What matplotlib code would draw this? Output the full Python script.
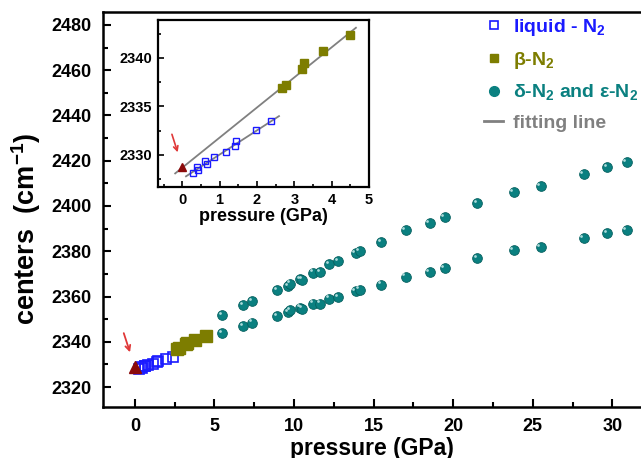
import matplotlib
matplotlib.use("Agg")
import matplotlib.pyplot as plt
from matplotlib.ticker import MultipleLocator
from matplotlib.lines import Line2D
import matplotlib.transforms as mtransforms

plt.rcParams['font.family'] = ['Liberation Sans', 'DejaVu Sans']
plt.rcParams['font.weight'] = 'bold'
plt.rcParams['mathtext.fontset'] = 'custom'
plt.rcParams['mathtext.rm'] = 'Liberation Sans:bold'
plt.rcParams['mathtext.bf'] = 'Liberation Sans:bold'
plt.rcParams['mathtext.it'] = 'Liberation Sans:bold'
plt.rcParams['mathtext.default'] = 'bf'

# ---- data ----
liquid_p = [0.28, 0.40, 0.43, 0.62, 0.67, 0.85, 1.17, 1.41, 1.45, 1.97, 2.38]
liquid_c = [2328.1, 2328.8, 2328.5, 2329.4, 2329.1, 2329.8, 2330.3, 2330.9, 2331.4, 2332.6, 2333.5]

beta_p = [2.68, 2.78, 3.21, 3.25, 3.78, 4.50]
beta_c = [2336.9, 2337.2, 2338.9, 2339.45, 2340.75, 2342.4]

delta_p = [5.50, 6.80, 7.39, 8.93, 9.62, 9.77, 10.36, 10.53, 11.20, 11.66, 12.20, 12.76,
           13.87, 14.12, 15.49, 17.01, 18.52, 19.46, 21.49, 23.79, 25.49, 28.19, 29.67, 30.89]
delta_upper = [2351.7, 2356.2, 2358.1, 2362.8, 2364.7, 2365.7, 2367.7, 2367.5, 2370.6, 2370.9,
               2374.3, 2375.5, 2379.3, 2380.2, 2384.2, 2389.3, 2392.6, 2395.0, 2401.4, 2406.0,
               2408.8, 2414.0, 2417.3, 2419.3]
delta_lower = [2343.9, 2346.9, 2348.5, 2351.3, 2353.2, 2354.2, 2355.1, 2354.7, 2356.9, 2356.9,
               2359.1, 2359.8, 2362.5, 2363.1, 2365.3, 2368.8, 2370.9, 2372.7, 2377.1, 2380.5,
               2382.0, 2385.7, 2387.9, 2389.3]

ambient_p = [0.0]
ambient_c = [2328.8]

fit_liquid_p = [0.10, 2.59]
fit_liquid_c = [2327.8, 2334.0]
fit_beta_p = [-0.19, 4.65]
fit_beta_c = [2328.1, 2343.1]

legend_labels = ['liquid - N$_2$', 'β-N$_2$', 'δ-N$_2$ and ε-N$_2$', 'fitting line']

# ---- colours ----
BLUE = '#1a1aff'
OLIVE = '#7d7d00'
TEAL = '#0a8080'
GREY = '#808080'
DARKRED = '#8b0a0a'
ARROW = '#e03838'

fig = plt.figure(figsize=(6.41, 4.58), dpi=100)
ax = fig.add_axes([103/641, 1-407/458, 1-103/641, (407-12)/458])


def balls(axis, x, y, ms):
    axis.plot(x, y, 'o', color=TEAL, ms=ms, mec='#06605f', mew=0.6, zorder=3)
    off = mtransforms.offset_copy(axis.transData, fig=fig, x=-0.22*ms, y=0.22*ms, units='points')
    axis.plot(x, y, 'o', color='#bfe6e6', ms=ms*0.28, mew=0, transform=off, zorder=4, alpha=0.9)


ax.plot(liquid_p, liquid_c, 's', mfc='none', mec=BLUE, ms=7, mew=1.2, zorder=3)
ax.plot(beta_p, beta_c, 's', color=OLIVE, ms=8, zorder=3)
balls(ax, delta_p, delta_upper, 7)
balls(ax, delta_p, delta_lower, 7)
ax.plot(ambient_p, ambient_c, '^', color=DARKRED, ms=9, zorder=5)
ax.annotate('', xy=(-0.25, 2334.2), xytext=(-0.75, 2345.0),
            arrowprops=dict(arrowstyle='->', color=ARROW, lw=1.3, mutation_scale=9))

ax.set_xlim(-2.0, 31.8)
ax.set_ylim(2311.2, 2485.7)
ax.xaxis.set_major_locator(MultipleLocator(5))
ax.xaxis.set_minor_locator(MultipleLocator(2.5))
ax.yaxis.set_major_locator(MultipleLocator(20))
ax.yaxis.set_minor_locator(MultipleLocator(10))
ax.tick_params(which='both', direction='in', top=False, right=False, width=1.5)
ax.tick_params(which='major', length=6, labelsize=13, pad=8)
ax.tick_params(which='minor', length=3.5)
for lab in ax.get_xticklabels() + ax.get_yticklabels():
    lab.set_fontweight('bold')
for s in ['left', 'bottom', 'top']:
    ax.spines[s].set_linewidth(1.8)
ax.spines['right'].set_visible(False)
ax.set_xlabel('pressure (GPa)', fontsize=16.5, fontweight='bold', labelpad=1)
ax.set_ylabel('centers  (cm$^{-1}$)', fontsize=19.5, fontweight='bold')
ax.yaxis.set_label_coords(-0.112, 0.45)

handles = [
    Line2D([], [], ls='none', marker='s', mfc='none', mec=BLUE, ms=5.5, mew=1.2),
    Line2D([], [], ls='none', marker='s', color=OLIVE, ms=5.5),
    Line2D([], [], ls='none', marker='o', color=TEAL, ms=7),
    Line2D([], [], color=GREY, lw=2),
]
leg = fig.legend(handles, legend_labels, loc='upper left', bbox_to_anchor=(484/641, 1-17/458),
                 frameon=False, handlelength=1.0, handletextpad=0.5,
                 labelspacing=0.6, borderpad=0, borderaxespad=0,
                 labelcolor=[BLUE, OLIVE, TEAL, GREY], prop={'weight': 'bold', 'size': 14})

# ---- inset ----
ins = fig.add_axes([158/641, 1-187/458, (369-158)/641, (187-20)/458])
ins.plot(fit_beta_p, fit_beta_c, '-', color=GREY, lw=1.3, zorder=2)
ins.plot(fit_liquid_p, fit_liquid_c, '-', color=GREY, lw=1.3, zorder=2)
ins.plot(liquid_p, liquid_c, 's', mfc='none', mec=BLUE, ms=5, mew=1.0, zorder=3)
ins.plot(beta_p, beta_c, 's', color=OLIVE, ms=6, zorder=3)
ins.plot(ambient_p, ambient_c, '^', color=DARKRED, ms=6, zorder=4)
ins.annotate('', xy=(-0.1, 2330.0), xytext=(-0.3, 2332.4),
             arrowprops=dict(arrowstyle='->', color=ARROW, lw=1.2, mutation_scale=8))
ins.set_xlim(-0.65, 5.0)
ins.set_ylim(2326.7, 2343.9)
ins.xaxis.set_major_locator(MultipleLocator(1))
ins.xaxis.set_minor_locator(MultipleLocator(0.5))
ins.yaxis.set_major_locator(MultipleLocator(5))
ins.yaxis.set_minor_locator(MultipleLocator(2.5))
ins.tick_params(which='both', direction='in', width=1.2)
ins.tick_params(which='major', length=4, labelsize=10.5, pad=4)
ins.tick_params(which='minor', length=2.5)
for lab in ins.get_xticklabels() + ins.get_yticklabels():
    lab.set_fontweight('bold')
for s in ins.spines.values():
    s.set_linewidth(1.6)
ins.set_xlabel('pressure (GPa)', fontsize=13, fontweight='bold', labelpad=1)

fig.savefig('out.png', dpi=100)
